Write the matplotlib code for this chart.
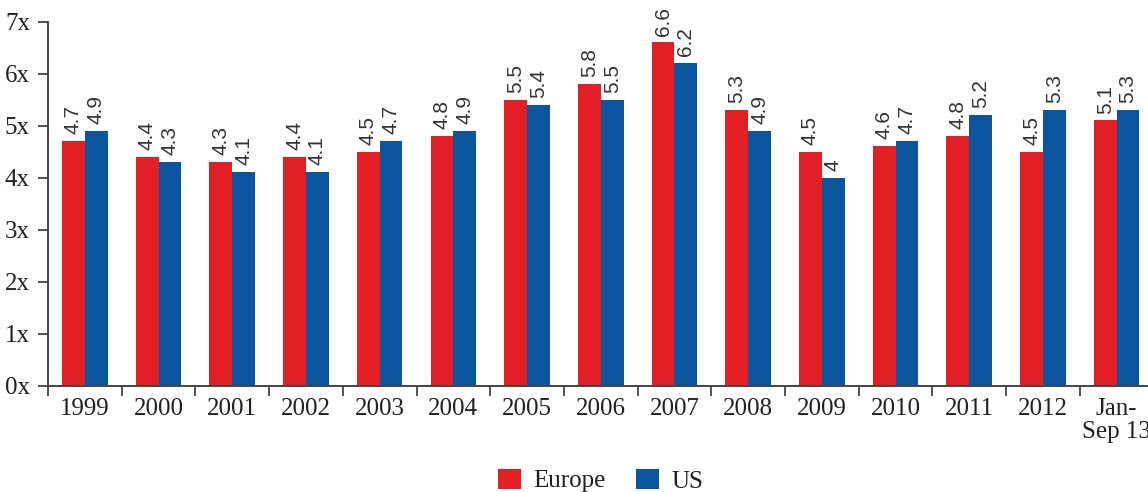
import matplotlib
matplotlib.use("Agg")
import matplotlib.pyplot as plt
from matplotlib.patches import Patch
import numpy as np

# Multiples by year
categories = ["1999", "2000", "2001", "2002", "2003", "2004", "2005", "2006",
              "2007", "2008", "2009", "2010", "2011", "2012", "Jan-\nSep 13"]
europe = [4.7, 4.4, 4.3, 4.4, 4.5, 4.8, 5.5, 5.8, 6.6, 5.3, 4.5, 4.6, 4.8, 4.5, 5.1]
us = [4.9, 4.3, 4.1, 4.1, 4.7, 4.9, 5.4, 5.5, 6.2, 4.9, 4.0, 4.7, 5.2, 5.3, 5.3]
y_ticks = [0, 1, 2, 3, 4, 5, 6, 7]
y_tick_labels = ["0x", "1x", "2x", "3x", "4x", "5x", "6x", "7x"]

RED = "#E31F26"
BLUE = "#0B559F"
INK = "#231f20"
SERIF = ["Liberation Serif", "DejaVu Serif"]
NARROW = ["Liberation Sans Narrow", "Liberation Sans", "DejaVu Sans"]

W, H = 1148, 492
fig = plt.figure(figsize=(W / 100, H / 100), dpi=100)

cat_w = 73.7
left, base, top = 48, 385.5, 21.7
ax = fig.add_axes([left / W, (H - base) / H, len(categories) * cat_w / W, (base - top) / H])

x = np.arange(len(categories))
bw = 0.31
b1 = ax.bar(x - bw / 2, europe, bw, color=RED, label="Europe")
b2 = ax.bar(x + bw / 2, us, bw, color=BLUE, label="US")

def fmt(v):
    return f"{v:g}"

for bars, vals in ((b1, europe), (b2, us)):
    for rect, v in zip(bars, vals):
        ax.annotate(fmt(v), (rect.get_x() + rect.get_width() / 2, v),
                    xytext=(0, 5), textcoords="offset points",
                    rotation=90, ha="center", va="bottom",
                    fontsize=15, color="#333333", family=NARROW, clip_on=False)

ax.set_xlim(-0.5, len(categories) - 0.5)
ax.set_ylim(0, 7)

# Ticks at category boundaries, labels at centres
ax.set_xticks(np.arange(len(categories)) - 0.5)
ax.set_xticklabels([])
ax.set_xticks(x, minor=True)
ax.set_xticklabels(categories, minor=True, fontsize=18, family=SERIF, color=INK,
                   linespacing=1.05)
ax.tick_params(axis="x", which="major", length=7, width=1.3, color="#444444", direction="out")
ax.tick_params(axis="x", which="minor", length=0, pad=9)

ax.set_yticks(y_ticks)
ax.set_yticklabels(y_tick_labels, fontsize=18, family=SERIF, color=INK)
ax.tick_params(axis="y", length=7, width=1.3, color="#444444", pad=6)

for s in ("top", "right"):
    ax.spines[s].set_visible(False)
for s in ("left", "bottom"):
    ax.spines[s].set_color("#444444")
    ax.spines[s].set_linewidth(1.4)

handles = [Patch(facecolor=RED, label="Europe"), Patch(facecolor=BLUE, label="US")]
fig.legend(handles=handles, loc="upper center",
           bbox_to_anchor=((left + len(categories) * cat_w / 2) / W, (H - 456) / H),
           ncol=2, frameon=False, borderpad=0,
           prop={"family": SERIF, "size": 18},
           handlelength=0.92, handleheight=0.9, handletextpad=0.5, columnspacing=1.2)
for t in fig.legends[0].get_texts():
    t.set_color(INK)

fig.savefig("out.png", dpi=100)
